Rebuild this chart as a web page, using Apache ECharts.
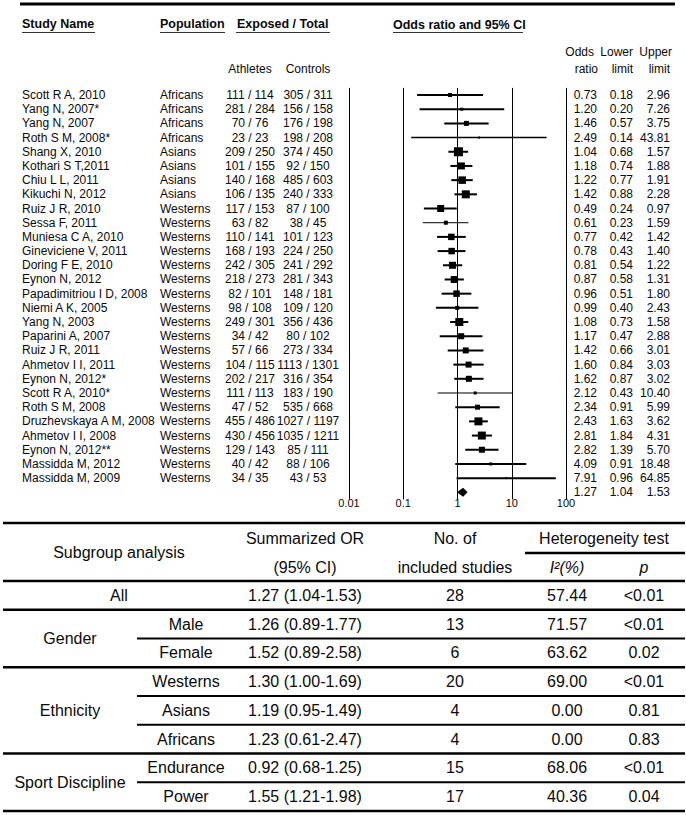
<!DOCTYPE html>
<html><head><meta charset="utf-8">
<script src="https://cdn.jsdelivr.net/npm/echarts@6/dist/echarts.min.js"></script>
<style>html,body{margin:0;padding:0;background:#fff}#c{width:686px;height:815px}</style>
</head><body><div id="c"></div>
<script>
// ---------- forest plot data ----------
const studyNames = ["Scott R A, 2010","Yang N, 2007*","Yang N, 2007","Roth S M, 2008*","Shang X, 2010","Kothari S T,2011","Chiu L L, 2011","Kikuchi N, 2012","Ruiz J R, 2010","Sessa F, 2011","Muniesa C A, 2010","Gineviciene V, 2011","Doring F E, 2010","Eynon N, 2012","Papadimitriou I D, 2008","Niemi A K, 2005","Yang N, 2003","Paparini A, 2007","Ruiz J R, 2011","Ahmetov I I, 2011","Eynon N, 2012*","Scott R A, 2010*","Roth S M, 2008","Druzhevskaya A M, 2008","Ahmetov I I, 2008","Eynon N, 2012**","Massidda M, 2012","Massidda M, 2009"];
const populations = ["Africans","Africans","Africans","Africans","Asians","Asians","Asians","Asians","Westerns","Westerns","Westerns","Westerns","Westerns","Westerns","Westerns","Westerns","Westerns","Westerns","Westerns","Westerns","Westerns","Westerns","Westerns","Westerns","Westerns","Westerns","Westerns","Westerns"];
const athletes = ["111 / 114","281 / 284","70 / 76","23 / 23","209 / 250","101 / 155","140 / 168","106 / 135","117 / 153","63 / 82","110 / 141","168 / 193","242 / 305","218 / 273","82 / 101","98 / 108","249 / 301","34 / 42","57 / 66","104 / 115","202 / 217","111 / 113","47 / 52","455 / 486","430 / 456","129 / 143","40 / 42","34 / 35"];
const controls = ["305 / 311","156 / 158","176 / 198","198 / 208","374 / 450","92 / 150","485 / 603","240 / 333","87 / 100","38 / 45","101 / 123","224 / 250","241 / 292","281 / 343","148 / 181","109 / 120","356 / 436","80 / 102","273 / 334","1113 / 1301","316 / 354","183 / 190","535 / 668","1027 / 1197","1035 / 1211","85 / 111","88 / 106","43 / 53"];
const oddsRatio = [0.73,1.20,1.46,2.49,1.04,1.18,1.22,1.42,0.49,0.61,0.77,0.78,0.81,0.87,0.96,0.99,1.08,1.17,1.42,1.60,1.62,2.12,2.34,2.43,2.81,2.82,4.09,7.91];
const lowerLimit = [0.18,0.20,0.57,0.14,0.68,0.74,0.77,0.88,0.24,0.23,0.42,0.43,0.54,0.58,0.51,0.40,0.73,0.47,0.66,0.84,0.87,0.43,0.91,1.63,1.84,1.39,0.91,0.96];
const upperLimit = [2.96,7.26,3.75,43.81,1.57,1.88,1.91,2.28,0.97,1.59,1.42,1.40,1.22,1.31,1.80,2.43,1.58,2.88,3.01,3.03,3.02,10.40,5.99,3.62,4.31,5.70,18.48,64.85];
const studyWeight = [4,3,5,2,9,7,7.5,8,7,4,6.5,6.5,7,7,6.5,4,8,6,6,6,6,3,5,8,8,6,3,2];
const pooledOR = [1.27, 1.04, 1.53];
const xTickLabels = ["0.01","0.1","1","10","100"];

// ---------- subgroup table data ----------
const subgroupGroup = ["All","Gender","Gender","Ethnicity","Ethnicity","Ethnicity","Sport Discipline","Sport Discipline"];
const subgroupLevel = ["","Male","Female","Westerns","Asians","Africans","Endurance","Power"];
const summaryOR = ["1.27 (1.04-1.53)","1.26 (0.89-1.77)","1.52 (0.89-2.58)","1.30 (1.00-1.69)","1.19 (0.95-1.49)","1.23 (0.61-2.47)","0.92 (0.68-1.25)","1.55 (1.21-1.98)"];
const includedStudies = [28,13,6,20,4,4,15,17];
const iSquared = ["57.44","71.57","63.62","69.00","0.00","0.00","68.06","40.36"];
const pValues = ["<0.01","<0.01","0.02","<0.01","0.81","0.83","<0.01","0.04"];

// ---------- layout ----------
const FF = "'Liberation Sans', Arial, Helvetica, sans-serif";
const ROW = 14.19;
const FIRST_ROW_Y = 95;
const thinLineRows = new Set([3, 9, 21]);
const INK = '#0a0a0a';

function txt(x, y, text, align, font, extra) {
  return Object.assign({
    type: 'text', x: x, y: y,
    style: { text: text, font: font, fill: INK, textAlign: align, align: align, textVerticalAlign: 'middle', verticalAlign: 'middle' }
  }, extra || {});
}
function ln(x1, y1, x2, y2, w, color) {
  return { type: 'line', shape: { x1: x1, y1: y1, x2: x2, y2: y2 }, style: { stroke: color || '#000', lineWidth: w } };
}

const graphics = [];
// top rule and headers
graphics.push(ln(20, 4, 675, 4, 3));
const hb = 'bold 12.5px ' + FF;
graphics.push(txt(22, 24, 'Study Name', 'left', hb));
graphics.push(txt(160, 24, 'Population', 'left', hb));
graphics.push(txt(237, 24, 'Exposed / Total', 'left', hb));
graphics.push(txt(393, 25, 'Odds ratio and 95% CI', 'left', hb));
graphics.push(ln(22, 32.5, 95, 32.5, 1, '#333'));
graphics.push(ln(160, 32.5, 225, 32.5, 1, '#333'));
graphics.push(ln(236, 32.5, 330, 32.5, 1, '#333'));
graphics.push(ln(393, 32.5, 523, 32.5, 1, '#333'));
const f12 = '12px ' + FF;
graphics.push(txt(250, 69, 'Athletes', 'center', f12));
graphics.push(txt(308, 69, 'Controls', 'center', f12));
graphics.push(txt(594, 52, 'Odds', 'right', f12));
graphics.push(txt(633, 52, 'Lower', 'right', f12));
graphics.push(txt(672, 52, 'Upper', 'right', f12));
graphics.push(txt(598, 69, 'ratio', 'right', f12));
graphics.push(txt(633, 69, 'limit', 'right', f12));
graphics.push(txt(670, 69, 'limit', 'right', f12));

// subgroup table
const f16 = '16px ' + FF;
const fi16 = 'italic 16px ' + FF;
const T_TOP = 523, T_HEAD_BOTTOM = 581, T_ROW = 28.75, T_LEFT = 3, T_RIGHT = 685;
const COL_GROUP = 70, COL_LEVEL = 186, COL_ALL = 119, COL_OR = 305, COL_N = 455, COL_I2 = 567, COL_P = 644;
graphics.push(ln(T_LEFT, T_TOP, T_RIGHT, T_TOP, 2.6));
graphics.push(txt(COL_ALL, 552, 'Subgroup analysis', 'center', f16));
graphics.push(txt(COL_OR, 538, 'Summarized OR', 'center', f16));
graphics.push(txt(COL_OR, 567, '(95% CI)', 'center', f16));
graphics.push(txt(COL_N, 538, 'No. of', 'center', f16));
graphics.push(txt(COL_N, 567, 'included studies', 'center', f16));
graphics.push(txt(604, 538, 'Heterogeneity test', 'center', f16));
graphics.push(ln(525, 553, T_RIGHT, 553, 2.4));
graphics.push(txt(COL_I2, 567, 'I\u00B2(%)', 'center', fi16));
graphics.push(txt(COL_P, 567, 'p', 'center', fi16));
graphics.push(ln(T_LEFT, T_HEAD_BOTTOM, T_RIGHT, T_HEAD_BOTTOM, 2.6));

const groupSpan = {};
subgroupGroup.forEach(function (g, k) {
  const top = T_HEAD_BOTTOM + T_ROW * k;
  const mid = top + T_ROW / 2;
  const bottom = top + T_ROW;
  if (!groupSpan[g]) groupSpan[g] = [top, bottom, subgroupLevel[k] === ''];
  groupSpan[g][1] = bottom;
  if (subgroupLevel[k] !== '') graphics.push(txt(COL_LEVEL, mid, subgroupLevel[k], 'center', f16));
  graphics.push(txt(COL_OR, mid, summaryOR[k], 'center', f16));
  graphics.push(txt(COL_N, mid, String(includedStudies[k]), 'center', f16));
  graphics.push(txt(COL_I2, mid, iSquared[k], 'center', f16));
  graphics.push(txt(COL_P, mid, pValues[k], 'center', f16));
  const sameNext = k + 1 < subgroupGroup.length && subgroupGroup[k + 1] === g;
  if (sameNext) graphics.push(ln(137, bottom, T_RIGHT, bottom, 1.8));
  else graphics.push(ln(T_LEFT, bottom, T_RIGHT, bottom, 2.6));
});
Object.keys(groupSpan).forEach(function (g) {
  const s = groupSpan[g];
  graphics.push(txt(s[2] ? COL_ALL : COL_GROUP, (s[0] + s[1]) / 2, g, 'center', f16));
});

// ---------- chart ----------
const forestData = oddsRatio.map(function (v, i) { return [v, lowerLimit[i], upperLimit[i], i, studyWeight[i]]; });
const textData = studyNames.map(function (n, i) { return [1, i]; });

const chart = echarts.init(document.getElementById('c'), null, { renderer: 'svg' });
chart.setOption({
  animation: false,
  backgroundColor: '#fff',
  grid: { left: 349, top: FIRST_ROW_Y - ROW / 2, width: 217, height: ROW * 29, containLabel: false },
  xAxis: {
    type: 'log', logBase: 10, min: 0.01, max: 100,
    axisLine: { show: false }, axisTick: { show: false },
    splitLine: { show: true, lineStyle: { color: '#000', width: 1 } },
    minorSplitLine: { show: false },
    axisLabel: {
      show: true, margin: -1.5, fontSize: 11, fontFamily: FF, color: INK,
      showMinLabel: true, showMaxLabel: true,
      formatter: function (v) { return xTickLabels[Math.round(Math.log10(v)) + 2]; }
    }
  },
  yAxis: { type: 'value', min: -0.5, max: 28.5, inverse: true, show: false, splitLine: { show: false } },
  graphic: { elements: graphics },
  series: [
    {
      type: 'custom', name: 'studies', clip: false, data: forestData,
      encode: { x: [0, 1, 2], y: 3 },
      renderItem: function (params, api) {
        const i = api.value(3);
        const p = api.coord([api.value(0), i]);
        const l = api.coord([api.value(1), i]);
        const h = api.coord([api.value(2), i]);
        const s = api.value(4);
        const lw = thinLineRows.has(params.dataIndex) ? (params.dataIndex === 3 ? 1.5 : 1) : 2;
        return { type: 'group', children: [
          { type: 'line', shape: { x1: l[0], y1: l[1], x2: h[0], y2: h[1] }, style: { stroke: '#000', lineWidth: lw } },
          { type: 'rect', shape: { x: p[0] - s / 2, y: p[1] - s / 2, width: s, height: s }, style: { fill: '#000' } }
        ] };
      }
    },
    {
      type: 'custom', name: 'pooled', clip: false, data: [[pooledOR[0], pooledOR[1], pooledOR[2], studyNames.length]],
      encode: { x: [0, 1, 2], y: 3 },
      renderItem: function (params, api) {
        const r = api.value(3);
        const p = api.coord([api.value(0), r]);
        const l = api.coord([api.value(1), r]);
        const h = api.coord([api.value(2), r]);
        const hh = 4.5;
        return { type: 'group', children: [
          { type: 'polygon', shape: { points: [[l[0] - 1.5, p[1]], [p[0], p[1] - hh], [h[0], p[1]], [p[0], p[1] + hh]] }, style: { fill: '#000' } },
          txt(597, p[1], api.value(0).toFixed(2), 'right', f12),
          txt(633, p[1], api.value(1).toFixed(2), 'right', f12),
          txt(670, p[1], api.value(2).toFixed(2), 'right', f12)
        ] };
      }
    },
    {
      type: 'custom', name: 'rowText', clip: false, data: textData,
      encode: { x: 0, y: 1 },
      renderItem: function (params, api) {
        const i = params.dataIndex;
        const y = api.coord([1, i])[1];
        return { type: 'group', children: [
          txt(22, y, studyNames[i], 'left', f12),
          txt(160, y, populations[i], 'left', f12),
          txt(250, y, athletes[i], 'center', f12),
          txt(308, y, controls[i], 'center', f12),
          txt(597, y, oddsRatio[i].toFixed(2), 'right', f12),
          txt(633, y, lowerLimit[i].toFixed(2), 'right', f12),
          txt(670, y, upperLimit[i].toFixed(2), 'right', f12)
        ] };
      }
    }
  ]
});
</script>
</body></html>
